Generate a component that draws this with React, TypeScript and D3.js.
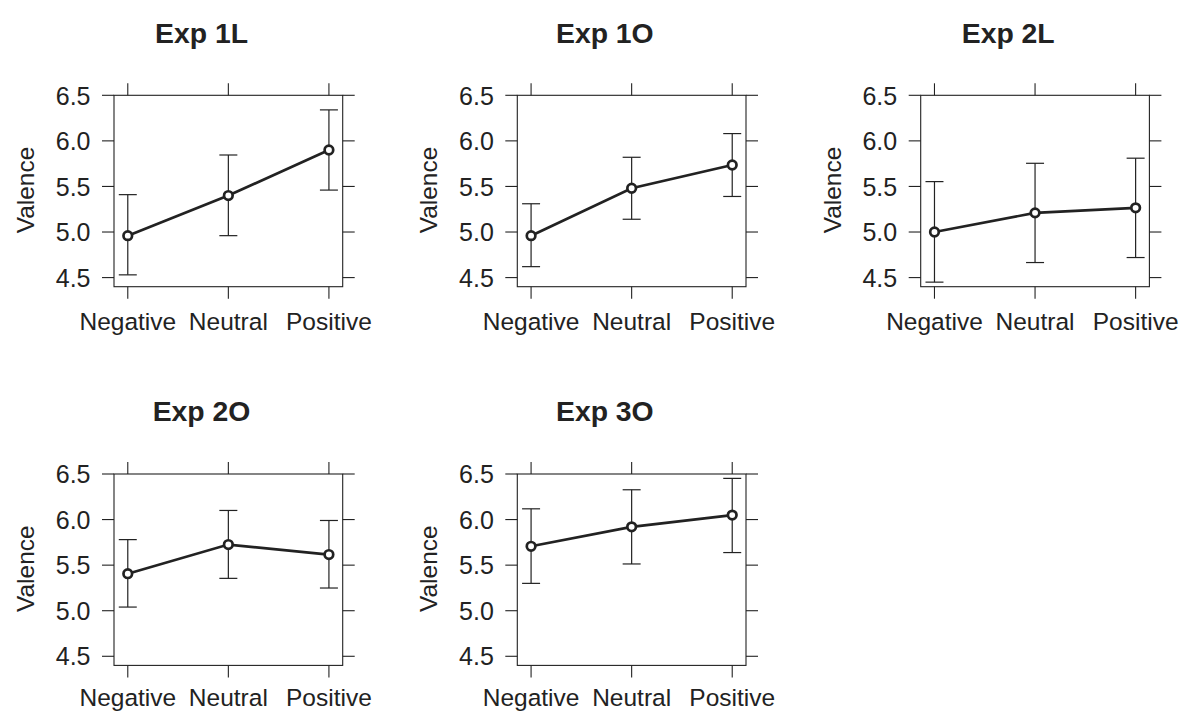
import React from "react";
import * as d3 from "d3";

const categories = ["Negative", "Neutral", "Positive"];
const panelTitles = ["Exp 1L", "Exp 1O", "Exp 2L", "Exp 2O", "Exp 3O"];
const yTicks = [4.5, 5.0, 5.5, 6.0, 6.5];

const meanExp1L = [4.96, 5.4, 5.9];
const upperExp1L = [5.41, 5.845, 6.34];
const lowerExp1L = [4.53, 4.96, 5.46];

const meanExp1O = [4.96, 5.48, 5.735];
const upperExp1O = [5.31, 5.82, 6.08];
const lowerExp1O = [4.62, 5.14, 5.39];

const meanExp2L = [5.0, 5.21, 5.265];
const upperExp2L = [5.553, 5.754, 5.81];
const lowerExp2L = [4.45, 4.665, 4.72];

const meanExp2O = [5.406, 5.726, 5.616];
const upperExp2O = [5.78, 6.1, 5.99];
const lowerExp2O = [5.04, 5.355, 5.249];

const meanExp3O = [5.707, 5.92, 6.049];
const upperExp3O = [6.118, 6.327, 6.452];
const lowerExp3O = [5.3, 5.513, 5.638];

const means = [meanExp1L, meanExp1O, meanExp2L, meanExp2O, meanExp3O];
const uppers = [upperExp1L, upperExp1O, upperExp2L, upperExp2O, upperExp3O];
const lowers = [lowerExp1L, lowerExp1O, lowerExp2L, lowerExp2O, lowerExp3O];

const COL_X = [114, 517.3, 920.7];
const ROW_Y = [95.3, 474];
const LABEL_OFF = [43.3, 41.0];
const BOX_W = 228.7;
const BOX_H = 191.4;
const FONT = "'Liberation Sans', Arial, Helvetica, sans-serif";
const INK = "#222";

function Panel({ idx }: { idx: number }) {
  const col = idx % 3;
  const row = Math.floor(idx / 3);
  const x0 = COL_X[col];
  const y0 = ROW_Y[row];
  const x = d3.scalePoint<string>().domain(categories).range([0, BOX_W]).padding(0.137);
  const y = d3.scaleLinear().domain([4.4, 6.5]).range([BOX_H, 0]);
  const line = d3
    .line<number>()
    .x((_, i) => x(categories[i]) as number)
    .y((d) => y(d));
  const tl = 12;
  const cap = 9;
  return (
    <g transform={`translate(${x0},${y0})`}>
      <text
        transform={`translate(${87.5},${-52.6}) scale(1.05,1)`}
        textAnchor="middle"
        fontFamily={FONT}
        fontWeight="bold"
        fontSize={27}
        fill={INK}
      >
        {panelTitles[idx]}
      </text>
      <rect x={0} y={0} width={BOX_W} height={BOX_H} fill="none" stroke={INK} strokeWidth={1.1} />
      {yTicks.map((t) => (
        <g key={"y" + t}>
          <line x1={-tl} x2={0} y1={y(t)} y2={y(t)} stroke={INK} strokeWidth={1.1} />
          <line x1={BOX_W} x2={BOX_W + tl} y1={y(t)} y2={y(t)} stroke={INK} strokeWidth={1.1} />
          <text
            x={-23.5}
            y={y(t) + 9.2}
            textAnchor="end"
            fontFamily={FONT}
            fontSize={25}
            fill={INK}
          >
            {t.toFixed(1)}
          </text>
        </g>
      ))}
      {categories.map((c) => (
        <g key={"x" + c}>
          <line x1={x(c)} x2={x(c)} y1={-tl} y2={0} stroke={INK} strokeWidth={1.1} />
          <line x1={x(c)} x2={x(c)} y1={BOX_H} y2={BOX_H + tl} stroke={INK} strokeWidth={1.1} />
          <text
            x={x(c)}
            y={BOX_H + LABEL_OFF[row]}
            textAnchor="middle"
            fontFamily={FONT}
            fontSize={24.5}
            fill={INK}
          >
            {c}
          </text>
        </g>
      ))}
      <text
        transform={`translate(${-80},${BOX_H / 2 - 1}) rotate(-90)`}
        textAnchor="middle"
        fontFamily={FONT}
        fontSize={24.5}
        fill={INK}
      >
        Valence
      </text>
      {categories.map((c, i) => (
        <g key={"e" + c}>
          <line x1={x(c)} x2={x(c)} y1={y(lowers[idx][i])} y2={y(uppers[idx][i])} stroke={INK} strokeWidth={1.2} />
          <line x1={(x(c) as number) - cap} x2={(x(c) as number) + cap} y1={y(lowers[idx][i])} y2={y(lowers[idx][i])} stroke={INK} strokeWidth={1.2} />
          <line x1={(x(c) as number) - cap} x2={(x(c) as number) + cap} y1={y(uppers[idx][i])} y2={y(uppers[idx][i])} stroke={INK} strokeWidth={1.2} />
        </g>
      ))}
      <path d={line(means[idx]) || ""} fill="none" stroke={INK} strokeWidth={2.7} />
      {categories.map((c, i) => (
        <circle key={"p" + c} cx={x(c)} cy={y(means[idx][i])} r={4.3} fill="white" stroke={INK} strokeWidth={2.7} />
      ))}
    </g>
  );
}

export default function App() {
  return (
    <svg
      width={1185}
      height={712}
      style={{ position: "absolute", left: 0, top: 0, background: "white" }}
    >
      <rect x={0} y={0} width={1185} height={712} fill="white" />
      {panelTitles.map((_, i) => (
        <Panel key={i} idx={i} />
      ))}
    </svg>
  );
}
